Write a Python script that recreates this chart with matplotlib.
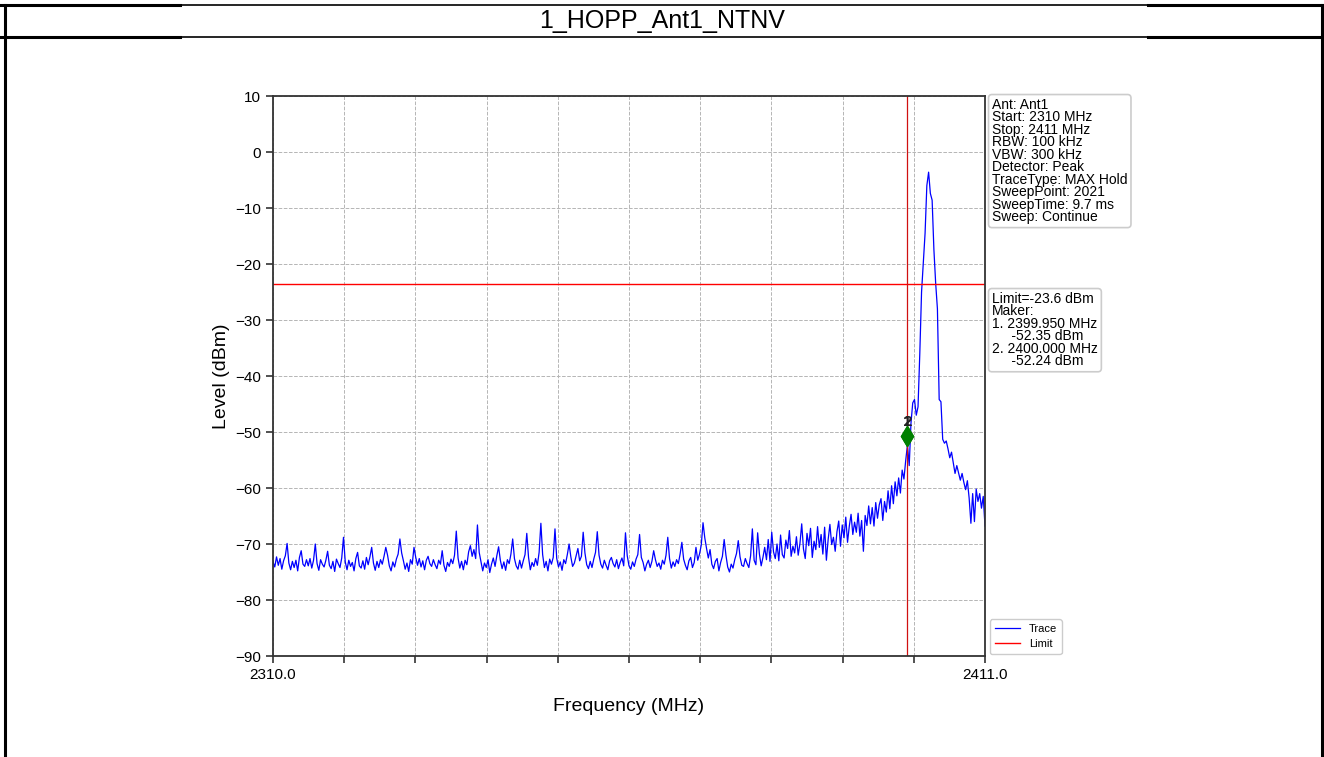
import numpy as np
import matplotlib
matplotlib.use("Agg")
import matplotlib.pyplot as plt
from matplotlib.lines import Line2D

plt.rcParams['font.family'] = ['Liberation Sans', 'DejaVu Sans']

title = "1_HOPP_Ant1_NTNV"
f_start, f_stop = 2310.0, 2411.0
limit_dbm = -23.6

# trace levels, 0.25 MHz apart (one row = 5 MHz)
level_dbm = [
    -73.2, -74.1, -72.3, -73.8, -72.6, -74.5, -73.0, -72.1, -69.9, -73.4, -74.6, -73.1, -74.2, -72.9, -74.8, -72.4, -71.2, -73.6, -74.0, -72.8,
    -73.9, -72.6, -74.3, -72.9, -70.0, -73.5, -74.7, -72.8, -73.6, -74.1, -72.9, -71.3, -73.8, -74.4, -73.1, -74.9, -72.7, -73.5, -74.2, -72.5,
    -68.8, -73.2, -74.6, -72.9, -74.0, -73.3, -74.8, -72.6, -71.5, -73.9, -74.3, -73.0, -74.5, -72.4, -73.7, -72.3, -70.6, -73.4, -74.7, -73.1,
    -74.2, -72.8, -73.6, -72.2, -70.6, -72.0, -73.9, -74.8, -73.2, -74.1, -72.7, -71.8, -69.1, -71.6, -73.0, -74.5, -73.4, -74.9, -72.8, -73.6,
    -70.6, -72.4, -73.8, -72.6, -74.1, -73.0, -74.6, -72.9, -72.2, -73.5, -74.0, -72.8, -73.7, -74.4, -72.9, -73.6, -71.2, -73.8, -74.9, -73.3,
    -74.0, -72.7, -73.5, -72.0, -67.7, -72.5, -74.3, -73.1, -74.6, -72.9, -73.7, -71.4, -70.3, -72.2, -71.0, -72.6, -66.6, -71.5, -73.2, -74.8,
    -73.4, -74.2, -72.8, -75.1, -73.6, -72.5, -74.0, -72.1, -70.5, -72.9, -74.4, -73.2, -74.7, -72.8, -73.5, -71.8, -69.1, -72.6, -73.9, -74.5,
    -72.9, -74.3, -73.0, -71.9, -68.1, -72.4, -74.6, -73.3, -74.0, -72.6, -73.8, -71.5, -66.3, -71.9, -74.2, -73.1, -74.8, -72.7, -73.6, -72.4,
    -67.3, -72.6, -74.1, -73.2, -74.7, -72.8, -73.5, -71.9, -70.0, -72.3, -74.0, -73.4, -72.1, -70.8, -73.0, -72.2, -67.9, -71.6, -73.7, -74.4,
    -73.1, -74.2, -72.7, -71.5, -67.8, -72.0, -73.6, -74.3, -72.9, -73.8, -74.6, -73.0, -72.4, -73.5, -74.1, -72.8, -74.4, -73.3, -72.5, -73.9,
    -68.0, -72.1, -73.9, -74.5, -73.2, -74.0, -72.7, -71.9, -68.3, -72.4, -73.3, -74.8, -73.6, -72.9, -74.2, -73.1, -71.2, -72.8, -74.0, -73.4,
    -74.5, -72.9, -73.6, -72.0, -68.8, -72.6, -74.3, -73.2, -74.0, -72.8, -73.5, -71.8, -69.7, -72.7, -73.8, -74.6, -73.0, -72.4, -74.2, -73.3,
    -70.6, -72.9, -71.8, -70.2, -66.2, -68.9, -70.8, -72.5, -71.0, -73.6, -74.4, -73.1, -72.6, -74.8, -73.3, -72.2, -69.2, -72.0, -74.1, -75.0,
    -73.6, -74.3, -72.8, -71.7, -69.4, -72.3, -73.8, -74.0, -72.6, -73.5, -74.2, -72.1, -67.3, -72.9, -73.7, -68.0, -71.8, -73.9, -72.4, -70.6,
    -72.8, -69.2, -73.1, -67.9, -71.4, -72.6, -70.0, -73.0, -68.4, -71.9, -72.5, -69.3, -70.8, -67.6, -72.2, -70.4, -71.6, -68.7, -72.0, -69.9,
    -66.4, -70.9, -72.6, -68.1, -70.3, -67.2, -72.4, -69.5, -71.0, -66.9, -70.6, -68.3, -71.8, -67.0, -72.9, -69.2, -66.5, -70.1, -68.8, -71.3,
    -67.8, -65.9, -70.4, -66.6, -68.9, -65.2, -69.7, -66.8, -64.7, -68.3, -66.1, -67.9, -64.5, -68.6, -65.8, -71.3, -64.9, -66.7, -63.2, -66.4,
    -63.5, -66.8, -62.6, -65.4, -63.0, -61.9, -65.8, -62.4, -64.3, -60.5, -63.7, -59.6, -62.8, -58.9, -61.4, -58.2, -60.9, -56.8, -58.4, -55.1,
    -52.3, -56.0, -48.4, -44.8, -44.2, -47.0, -45.5, -36.0, -25.0, -19.8, -14.5, -6.0, -3.6, -7.4, -8.6, -17.4, -23.4, -28.0, -44.2, -44.6,
    -51.3, -52.0, -51.6, -53.0, -54.6, -53.6, -55.5, -57.4, -56.0, -57.3, -58.6, -57.4, -59.0, -60.3, -58.7, -61.8, -66.3, -61.0, -66.0, -60.2,
    -62.4, -61.0, -63.6, -61.5, -66.8,
]
freq_mhz = np.linspace(f_start, f_stop, len(level_dbm))

marker_freq = [2399.95, 2400.0]
marker_level = [-50.7, -50.7]
marker_names = ["1", "2"]

info_text = ("Ant: Ant1\nStart: 2310 MHz\nStop: 2411 MHz\nRBW: 100 kHz\nVBW: 300 kHz\n"
             "Detector: Peak\nTraceType: MAX Hold\nSweepPoint: 2021\nSweepTime: 9.7 ms\nSweep: Continue")
marker_text = ("Limit=-23.6 dBm\nMaker:\n1. 2399.950 MHz\n     -52.35 dBm\n"
               "2. 2400.000 MHz\n     -52.24 dBm")

W, H = 1324, 757
fig = plt.figure(figsize=(W / 100, H / 100), dpi=100)

# report frame around the chart
def hline(y, x0, x1, lw):
    fig.add_artist(Line2D([x0 / W, x1 / W], [1 - y / H, 1 - y / H], color='black', lw=lw))

for yy in (5, 37):
    hline(yy, 0, 180, 2.2)
    hline(yy, 180, 1148, 1.2)
    hline(yy, 1148, W, 2.2)
fig.add_artist(Line2D([5 / W, 5 / W], [0, 1 - 5 / H], color='black', lw=2.2))
fig.add_artist(Line2D([1321.5 / W, 1321.5 / W], [0, 1 - 5 / H], color='black', lw=2.2))
fig.text(662 / W, 1 - 21 / H, title, ha='center', va='center', fontsize=18)

ax = fig.add_axes([273 / W, 1 - 656 / H, (985 - 273) / W, (656 - 96) / H])
ax.plot(freq_mhz, level_dbm, color='blue', lw=0.9, label='Trace')
ax.axhline(limit_dbm, color='red', lw=1.0, label='Limit')
ax.axvline(2400.0, color='#d01010', lw=0.9)
for f, lv, nm in zip(marker_freq, marker_level, marker_names):
    ax.plot(f, lv, marker='d', color='green', markersize=10.5, zorder=5)
    ax.text(f, lv + 1.3, nm, ha='center', va='bottom', fontsize=11,
            fontweight='bold', color='#222222', zorder=6)

ax.set_xlim(f_start, f_stop)
ax.set_ylim(-90, 10)
xt = np.linspace(f_start, f_stop, 11)
ax.set_xticks(xt)
ax.set_xticklabels(['2310.0'] + [''] * 9 + ['2411.0'])
ax.set_yticks(np.arange(-90, 11, 10))
ax.tick_params(labelsize=11, length=5, width=1.2, color='#333333')
ax.grid(True, linestyle='--', color='#b5b5b5', lw=0.7)
for s in ax.spines.values():
    s.set_color('#333333')
    s.set_linewidth(1.3)
ax.set_xlabel('Frequency (MHz)', fontsize=14, labelpad=12)
ax.set_ylabel('Level (dBm)', fontsize=14)

box = dict(boxstyle='round,pad=0.25', facecolor='white', edgecolor='#cccccc', lw=1.2)
fig.text(992 / W, 1 - 98 / H, info_text, ha='left', va='top', fontsize=10,
         linespacing=0.86, bbox=box)
fig.text(992 / W, 1 - 292 / H, marker_text, ha='left', va='top', fontsize=10,
         linespacing=0.86, bbox=box)

ax.legend(loc='lower left', bbox_to_anchor=(1.004, 0.0), borderaxespad=0.2,
          fontsize=8, handlelength=2.3, framealpha=1, edgecolor='#cccccc')

fig.savefig('out.png', dpi=100)
